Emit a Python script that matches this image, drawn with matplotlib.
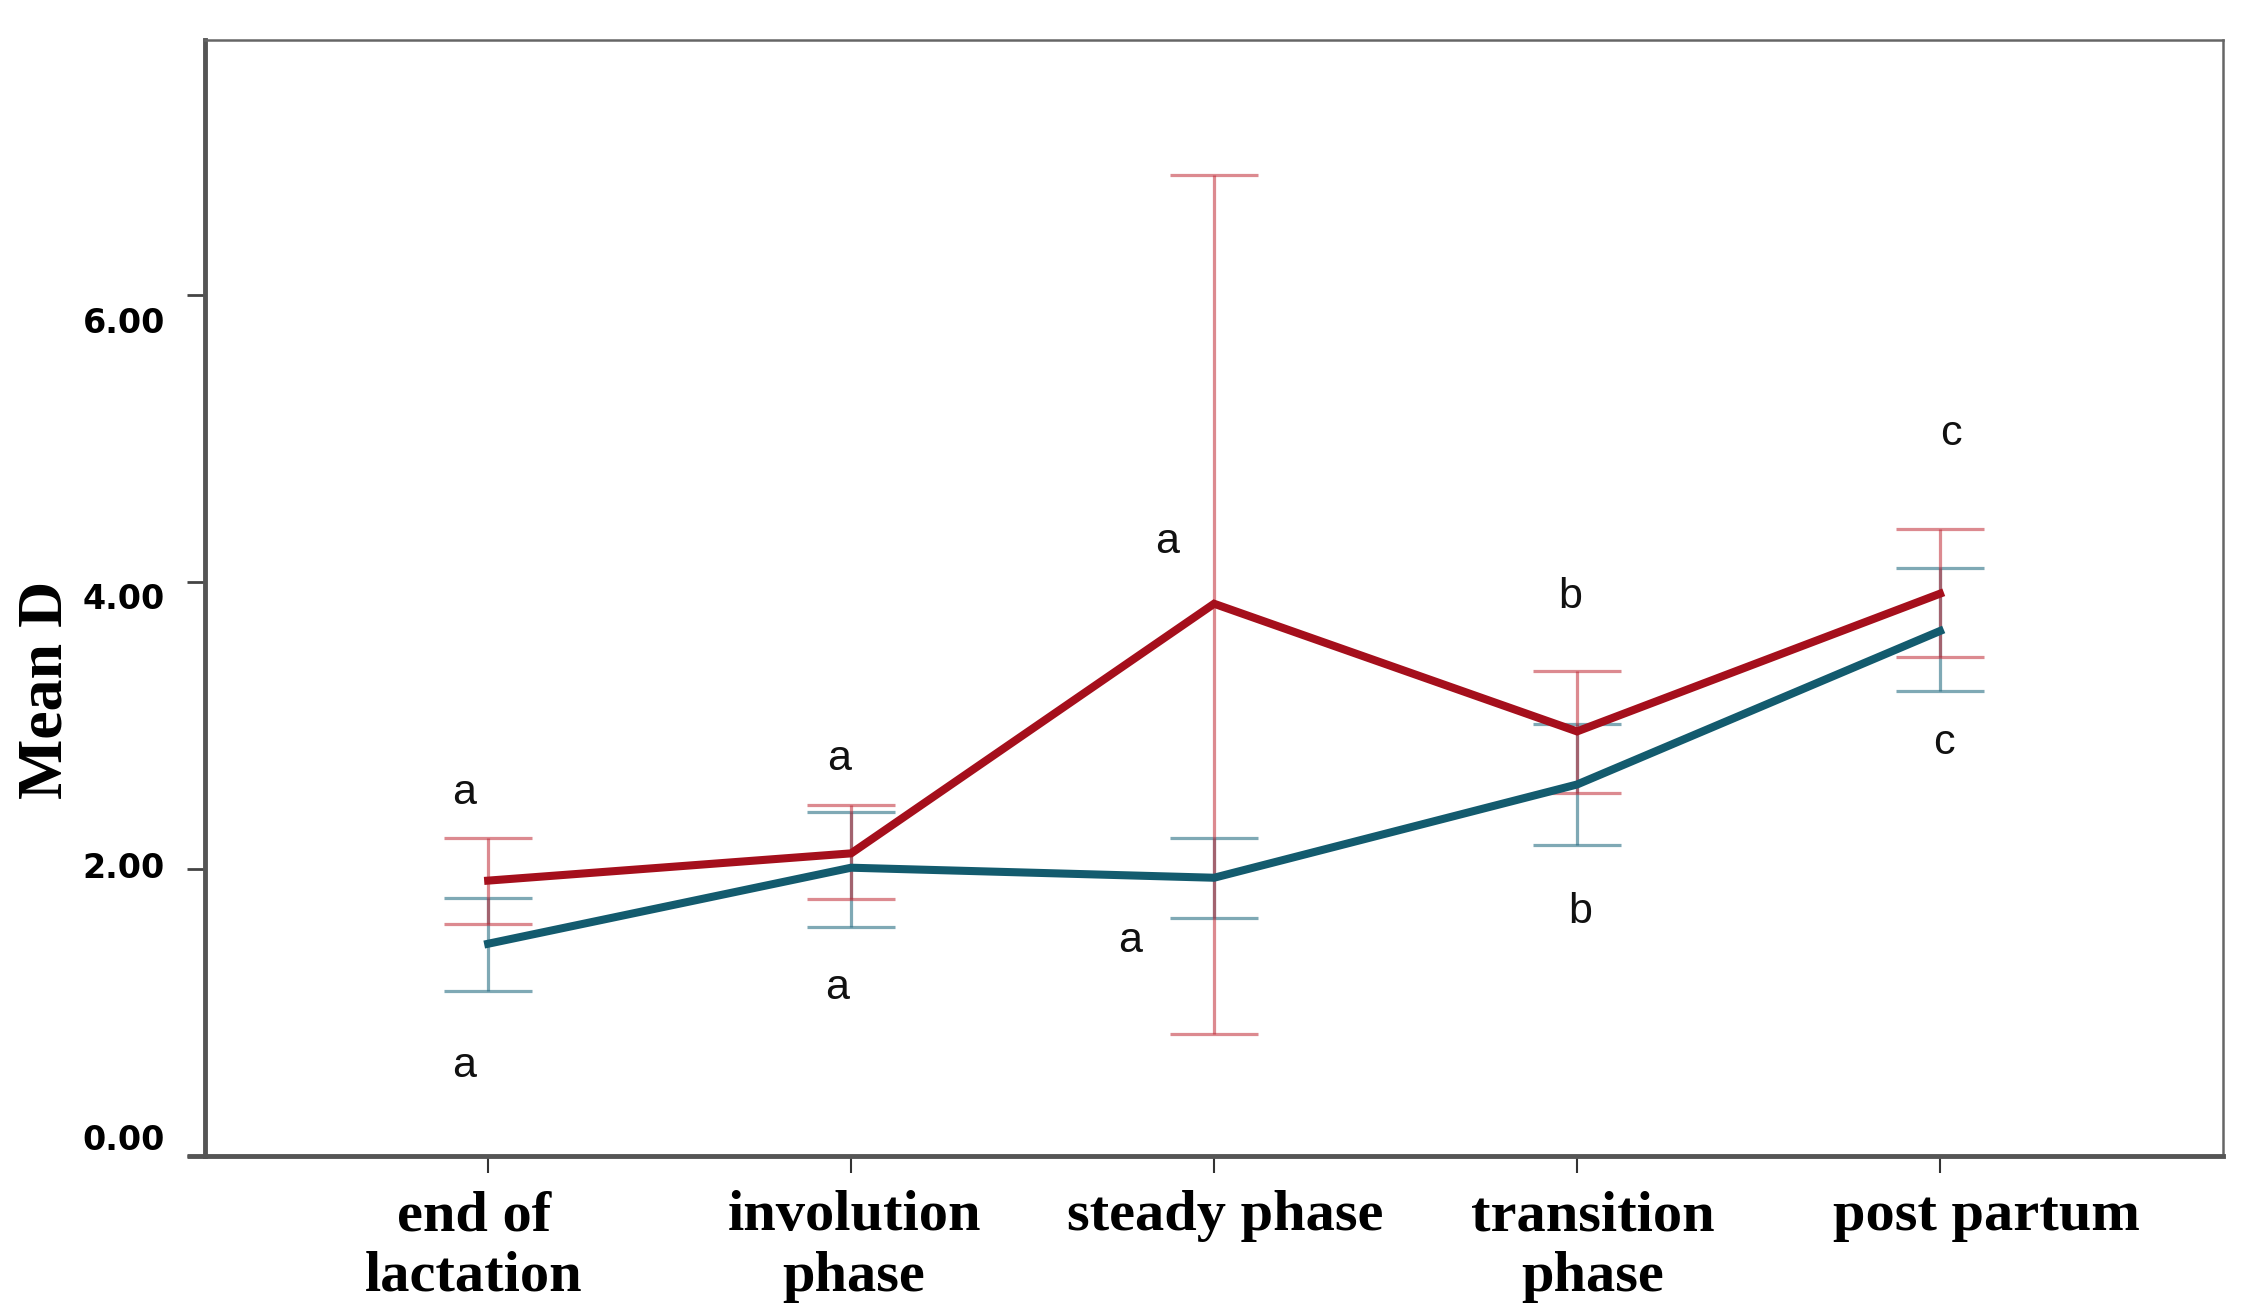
import numpy as np
import matplotlib.pyplot as plt
from matplotlib.transforms import ScaledTranslation, blended_transform_factory

phases = ['end of\nlactation', 'involution\nphase', 'steady phase', 'transition\nphase', 'post partum']

# red series
red_mean = [1.92, 2.11, 3.85, 2.96, 3.92]
red_low = [1.62, 1.79, 0.85, 2.53, 3.48]
red_high = [2.22, 2.45, 6.84, 3.38, 4.37]

# blue series
blue_mean = [1.48, 2.01, 1.94, 2.59, 3.66]
blue_low = [1.15, 1.60, 1.66, 2.17, 3.24]
blue_high = [1.80, 2.40, 2.22, 3.01, 4.10]

# significance letters (x, y in data units)
letters = ['a', 'a', 'a', 'a', 'a', 'a', 'b', 'b', 'c', 'c']
letter_x = [-0.066, -0.066, 0.967, 0.961, 1.87, 1.77, 2.98, 3.01, 4.03, 4.01]
letter_y = [2.53, 0.63, 2.77, 1.17, 4.28, 1.50, 3.90, 1.70, 5.03, 2.88]

yticks = [0, 2, 4, 6]
ytick_labels = ['0.00', '2.00', '4.00', '6.00']

red = '#A50F1C'
blue = '#135B6E'

fig = plt.figure(figsize=(22.46, 13.14), dpi=100)
ax = fig.add_axes([0.0913, 0.1202, 0.8985, 0.8494])

x = np.arange(len(phases))
red_err = [np.array(red_mean) - np.array(red_low), np.array(red_high) - np.array(red_mean)]
blue_err = [np.array(blue_mean) - np.array(blue_low), np.array(blue_high) - np.array(blue_mean)]

ax.errorbar(x, blue_mean, yerr=blue_err, fmt='none', ecolor='#2A7085', alpha=0.6,
            elinewidth=2.3, capsize=32, capthick=2.3, zorder=2)
ax.errorbar(x, red_mean, yerr=red_err, fmt='none', ecolor='#C02A36', alpha=0.55,
            elinewidth=2.3, capsize=32, capthick=2.3, zorder=2)
ax.plot(x, blue_mean, color=blue, lw=5.8, zorder=3, solid_joinstyle='miter')
ax.plot(x, red_mean, color=red, lw=5.8, zorder=4, solid_joinstyle='miter')

for t, lx, ly in zip(letters, letter_x, letter_y):
    ax.text(lx, ly, t, ha='center', va='center', fontsize=31,
            family='Liberation Sans', color='#111111')

ax.set_xlim(-0.78, 4.78)
ax.set_ylim(0, 7.78)

ax.set_xticks(x)
ax.set_xticklabels([])
ax.set_yticks(yticks)
ax.set_yticklabels([])

# category labels, slightly off-centre like the original
xlabel_shift = [-14, 3, 11, 16, 46]
xtrans = blended_transform_factory(ax.transData, ax.transAxes)
for xi, txt, dx in zip(x, phases, xlabel_shift):
    ax.text(xi, 0, txt, ha='center', va='top', fontsize=42, family='Liberation Serif',
            fontweight='bold', linespacing=1.22,
            transform=xtrans + ScaledTranslation(dx / 100, -0.34, fig.dpi_scale_trans))

# y tick labels in the original sit a bit off their ticks
label_shift = [16, 1, -17, -28]
ytrans = blended_transform_factory(ax.transAxes, ax.transData)
for val, txt, dy in zip(yticks, ytick_labels, label_shift):
    ax.text(0, val, txt, ha='right', va='center', fontsize=24, family='DejaVu Sans',
            fontweight='bold',
            transform=ytrans + ScaledTranslation(-0.40, dy / 100, fig.dpi_scale_trans))

ax.tick_params(axis='y', length=13, width=2, color='#444444')
ax.tick_params(axis='x', length=12, width=1.5, color='#333333')

ax.set_ylabel('Mean D', fontsize=46, family='Liberation Serif', fontweight='bold')
ax.yaxis.set_label_coords(-0.064, 0.418)

for side in ['left', 'bottom']:
    ax.spines[side].set_linewidth(3.5)
    ax.spines[side].set_color('#555555')
for side in ['top', 'right']:
    ax.spines[side].set_linewidth(1.8)
    ax.spines[side].set_color('#666666')
# bottom axis line runs a little past the left spine
ax.plot([-0.009, 0], [0, 0], transform=ax.transAxes, color='#555555', lw=3.5,
        clip_on=False, solid_capstyle='butt')

plt.savefig('out.png', dpi=100)
